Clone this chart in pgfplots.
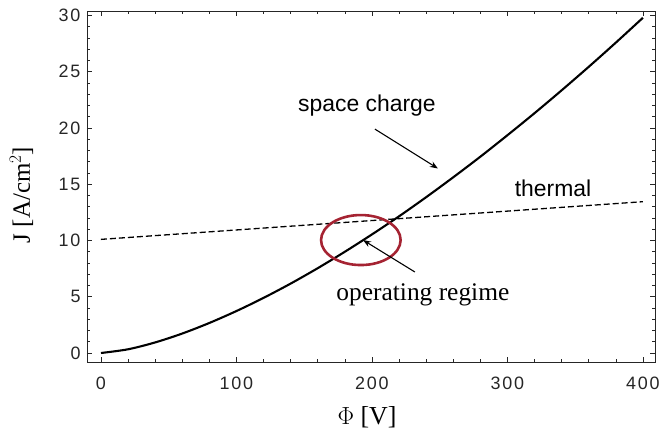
\documentclass[border=0pt]{standalone}
\usepackage{pgfplots}
\pgfplotsset{compat=1.18}
\usetikzlibrary{arrows.meta}
\usepackage{fontspec}
\setmainfont{Liberation Serif}
\setsansfont{Liberation Sans}
\newfontfamily\tickfont[LetterSpace=10]{Liberation Sans}
\definecolor{ellred}{RGB}{165,35,50}
\begin{document}
\begin{tikzpicture}
\begin{axis}[
  at={(0,0)}, anchor=south west,
  scale only axis,
  width=568bp, height=351bp,
  xmin=-10.3, xmax=408.9,
  ymin=-0.8, ymax=30.4,
  xtick={0,100,200,300,400},
  ytick={0,5,10,15,20,25,30},
  minor x tick num=4,
  minor y tick num=4,
  tick align=inside,
  major tick length=5bp,
  minor tick length=3bp,
  xtick pos=both, ytick pos=both,
  xticklabel pos=lower, yticklabel pos=left,
  axis line style={line width=0.8pt, black!85},
  tick style={line width=0.6pt, black!85},
  /pgf/number format/assume math mode=true,
  ticklabel style={font=\tickfont\fontsize{18}{20}\selectfont, text=black!85},
  xticklabel style={anchor=center, yshift=-21bp},
  yticklabel style={anchor=east, xshift=-3bp},
  xlabel={$\Phi$ [V]},
  ylabel={J [A/cm$^2$]},
  xlabel style={font=\fontsize{26}{28}\selectfont, at={(axis description cs:0.493,-0.156)}, anchor=center},
  ylabel style={font=\fontsize{25}{27}\selectfont, at={(axis description cs:-0.1153,0.476)}, anchor=center},
  clip=false,
]
\addplot[black, line width=2.1pt, smooth] coordinates {
(0,0) (20,0.33) (40,0.94) (60,1.73) (80,2.67) (100,3.73) (120,4.90)
(140,6.17) (160,7.54) (180,9.00) (200,10.54) (220,12.15) (240,13.85)
(260,15.62) (280,17.45) (300,19.36) (320,21.32) (340,23.35) (360,25.44)
(380,27.59) (400,29.8)
};
\addplot[black, line width=1.3pt, dash pattern=on 6bp off 3bp] coordinates {
(0,10.1) (400,13.45)
};
\draw[ellred, line width=2.6pt] (axis cs:191.8,10.04) ellipse [x radius=39.8bp, y radius=25bp];
\draw[-{Stealth[length=8bp,width=6bp]}, line width=1.1pt] (axis cs:202.2,19.9) -- (axis cs:248.7,16.4);
\draw[-{Stealth[length=8bp,width=6bp]}, line width=1.1pt] (axis cs:231.7,7.2) -- (axis cs:193.4,10.04);
\node[font=\sffamily\fontsize{23}{25}\selectfont] at (axis cs:196.3,22.0) {space charge};
\node[font=\sffamily\fontsize{23}{25}\selectfont] at (axis cs:333.6,14.67) {thermal};
\node[font=\fontsize{25.5}{27}\selectfont] at (axis cs:237.6,5.16) {operating regime};
\end{axis}
\pgfresetboundingbox
\useasboundingbox (-87bp,-70bp) rectangle (573bp,362bp);
\end{tikzpicture}
\end{document}
